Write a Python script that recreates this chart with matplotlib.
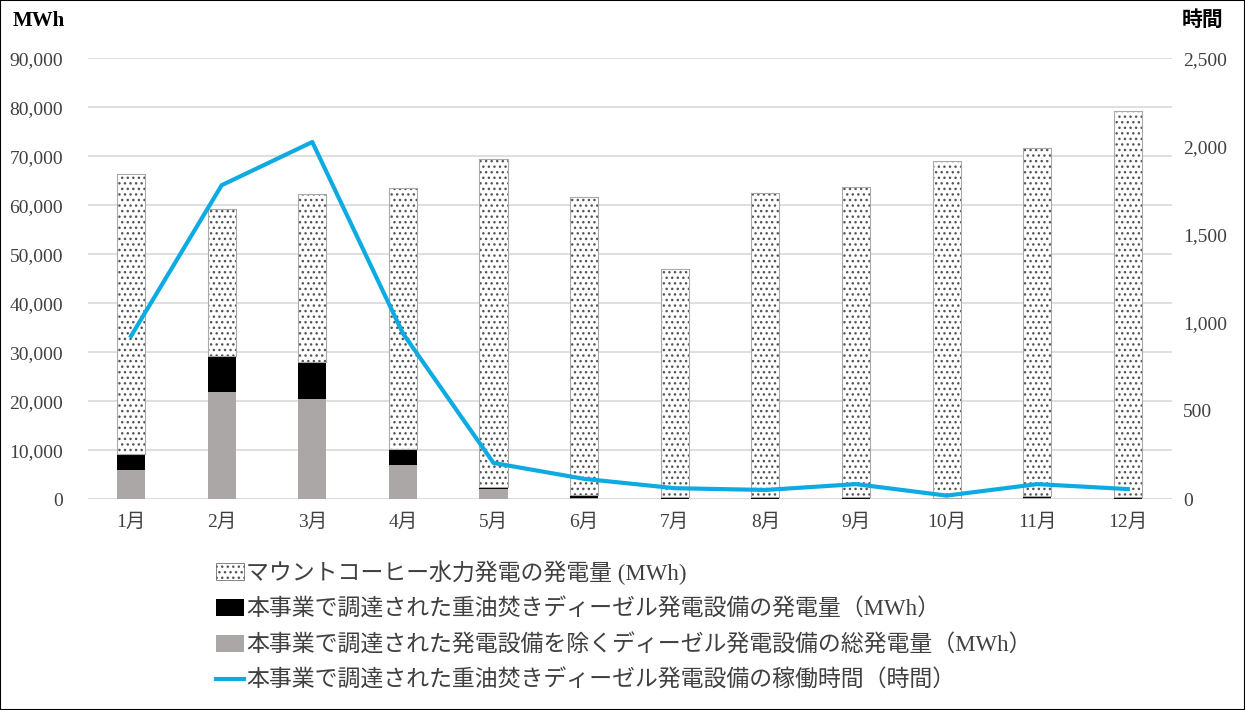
import matplotlib.pyplot as plt
from matplotlib.patches import Patch, Rectangle
from matplotlib.lines import Line2D
from matplotlib.ticker import FuncFormatter, MultipleLocator
import numpy as np

plt.rcParams['font.family'] = ['Liberation Serif', 'Noto Sans CJK JP']
plt.rcParams['hatch.linewidth'] = 1.0

# データ (MWh / 時間)
months = ['1月', '2月', '3月', '4月', '5月', '6月', '7月', '8月', '9月', '10月', '11月', '12月']
diesel_other = [6000, 21900, 20400, 6900, 2000, 300, 100, 100, 100, 100, 200, 100]
diesel_project = [3200, 7400, 7600, 3300, 500, 600, 300, 400, 300, 200, 400, 300]
hydro = [57100, 29900, 34200, 53300, 66900, 60800, 46600, 62000, 63300, 68700, 71100, 78800]
hours = [925, 1780, 2025, 940, 205, 115, 62, 52, 85, 20, 85, 57]

fig = plt.figure(figsize=(12.45, 7.10), dpi=100)
ax = fig.add_axes([0.0707, 0.297, 0.8705, 0.621])
ax2 = ax.twinx()

x = np.arange(len(months))
w = 0.31
gray = '#AAA7A6'
blue = '#0EABE3'

ax.bar(x, diesel_other, w, color=gray, zorder=3)
ax.bar(x, diesel_project, w, bottom=diesel_other, color='black', zorder=3)
bottom2 = np.array(diesel_other) + np.array(diesel_project)
ax.bar(x, hydro, w, bottom=bottom2, facecolor='white', edgecolor='#555555',
       hatch='...', linewidth=0.6, zorder=3)
# 枠線を薄く
ax.bar(x, hydro, w, bottom=bottom2, facecolor='none', edgecolor='#AAAAAA',
       linewidth=0.8, zorder=4)

ax2.plot(x, hours, color=blue, linewidth=3, zorder=5)

ax.set_xlim(-0.475, 11.485)
ax.set_ylim(0, 90000)
ax2.set_ylim(0, 2500)
ax.yaxis.set_major_locator(MultipleLocator(10000))
ax2.yaxis.set_major_locator(MultipleLocator(500))
fmt = FuncFormatter(lambda v, p: f'{int(v):,}')
ax.yaxis.set_major_formatter(fmt)
ax2.yaxis.set_major_formatter(fmt)
ax.set_xticks(x)
ax.set_xticklabels(months)
ax.grid(axis='y', color='#D9D9D9', linewidth=1.2, zorder=0)
ax.set_axisbelow(True)

for a in (ax, ax2):
    for s in a.spines.values():
        s.set_visible(False)
    a.tick_params(length=0, labelsize=14, colors='#404040')
ax.tick_params(axis='y', pad=18)
ax2.tick_params(axis='y', pad=8)
ax.tick_params(axis='x', pad=10)
ax.axhline(0, color='#D9D9D9', linewidth=1.2, zorder=1)

fig.text(0.010, 0.970, 'MWh', fontsize=15, fontweight='bold', va='center', ha='left')
fig.text(0.983, 0.970, '時間', fontsize=15, fontweight='bold', va='center', ha='right')

handles = [
    Patch(facecolor='white', edgecolor='#555555', hatch='...', linewidth=0.5),
    Patch(facecolor='black'),
    Patch(facecolor=gray),
    Line2D([0], [0], color=blue, linewidth=3),
]
labels = [
    'マウントコーヒー水力発電の発電量 (MWh)',
    '本事業で調達された重油焚きディーゼル発電設備の発電量（MWh）',
    '本事業で調達された発電設備を除くディーゼル発電設備の総発電量（MWh）',
    '本事業で調達された重油焚きディーゼル発電設備の稼働時間（時間）',
]
fig.legend(handles, labels, loc='upper left', bbox_to_anchor=(0.157, 0.240),
           frameon=False, fontsize=16.5, handlelength=1.2, handleheight=0.75,
           handletextpad=0.1, labelspacing=0.6, labelcolor='#404040')

fig.add_artist(Rectangle((0, 0), 1, 1, transform=fig.transFigure, fill=False,
                         edgecolor='black', linewidth=1.5))

fig.savefig('out.png', dpi=100)
